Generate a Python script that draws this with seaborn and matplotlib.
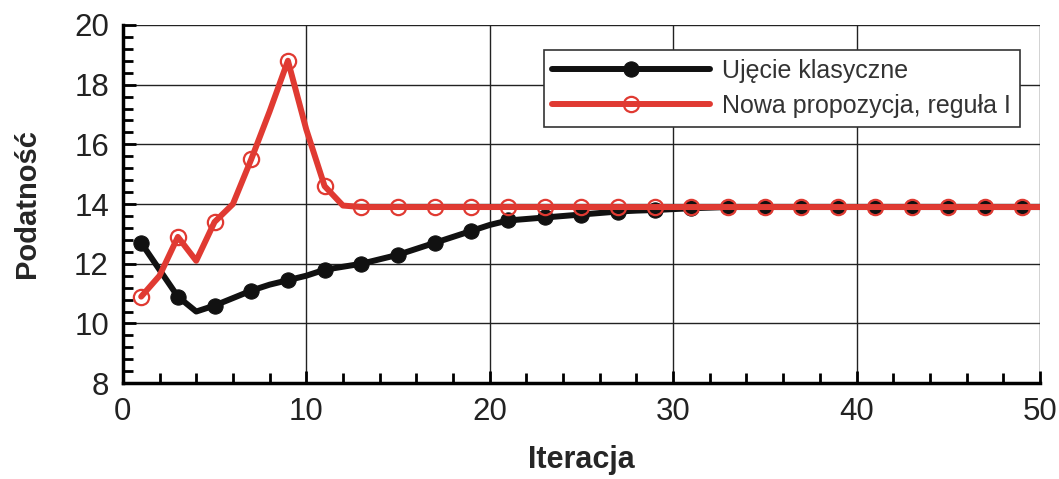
import numpy as np
import pandas as pd
import matplotlib
matplotlib.use("Agg")
import matplotlib.pyplot as plt
from matplotlib.ticker import MultipleLocator
import seaborn as sns

iteracja = list(range(1, 51))
klasyczne = [12.7, 11.8, 10.9, 10.4, 10.6, 10.85, 11.1, 11.3, 11.45, 11.6,
             11.8, 11.9, 12.0, 12.15, 12.3, 12.5, 12.7, 12.9, 13.1, 13.3,
             13.45, 13.5, 13.55, 13.6, 13.65, 13.7, 13.75, 13.78, 13.8, 13.83,
             13.86, 13.88, 13.9, 13.9, 13.9, 13.9, 13.9, 13.9, 13.9, 13.9,
             13.9, 13.9, 13.9, 13.9, 13.9, 13.9, 13.9, 13.9, 13.9, 13.9]
propozycja = [10.9, 11.6, 12.9, 12.1, 13.4, 14.0, 15.5, 17.1, 18.8, 16.5,
              14.6, 13.95, 13.9, 13.9, 13.9, 13.9, 13.9, 13.9, 13.9, 13.9,
              13.9, 13.9, 13.9, 13.9, 13.9, 13.9, 13.9, 13.9, 13.9, 13.9,
              13.9, 13.9, 13.9, 13.9, 13.9, 13.9, 13.9, 13.9, 13.9, 13.9,
              13.9, 13.9, 13.9, 13.9, 13.9, 13.9, 13.9, 13.9, 13.9, 13.9]

df = pd.DataFrame({"Iteracja": iteracja, "klas": klasyczne, "nowa": propozycja})

sns.set_style("white")
plt.rcParams['font.family'] = ['Liberation Sans', 'DejaVu Sans']

fig = plt.figure(figsize=(10.59, 4.79), dpi=100)
ax = fig.add_axes([0.116, 0.2, 0.866, 0.748])

sns.lineplot(data=df, x="Iteracja", y="klas", ax=ax, color="#111111", lw=4.3,
             marker="o", markersize=11, markevery=2, markerfacecolor="#111111",
             markeredgecolor="#111111", label="Ujęcie klasyczne")
sns.lineplot(data=df, x="Iteracja", y="nowa", ax=ax, color="#e03a32", lw=4.3,
             marker="o", markersize=11, markevery=2, markerfacecolor="none",
             markeredgecolor="#e03a32", markeredgewidth=1.6,
             label="Nowa propozycja, reguła I")

ax.set_xlim(0, 50)
ax.set_ylim(8, 20)
ax.xaxis.set_major_locator(MultipleLocator(10))
ax.xaxis.set_minor_locator(MultipleLocator(2))
ax.yaxis.set_major_locator(MultipleLocator(2))
ax.yaxis.set_minor_locator(MultipleLocator(0.4))
ax.grid(True, which="major", color="#222222", lw=1.0)
ax.tick_params(which="both", direction="in", color="black", width=2,
               left=True, bottom=True, top=False, right=False)
ax.tick_params(which="major", length=9, labelsize=22.5, pad=10, labelcolor="#222222")
ax.tick_params(which="minor", length=7)
for side in ["left", "bottom"]:
    ax.spines[side].set_color("black")
    ax.spines[side].set_linewidth(2.5)
for side in ["top", "right"]:
    ax.spines[side].set_visible(False)

ax.set_xlabel("Iteracja", fontsize=22, fontweight="bold", labelpad=13)
ax.set_ylabel("Podatność", fontsize=21, fontweight="bold", labelpad=24)

leg = ax.legend(loc="upper right", bbox_to_anchor=(0.992, 0.965), fontsize=18,
                handlelength=6.3, handletextpad=0.5, frameon=True,
                fancybox=False, framealpha=1, borderpad=0.35,
                labelspacing=0.45)
leg.get_frame().set_edgecolor("#333333")
leg.get_frame().set_linewidth(1.2)
for t in leg.get_texts():
    t.set_color("#333333")

fig.savefig("out.png", dpi=100)
